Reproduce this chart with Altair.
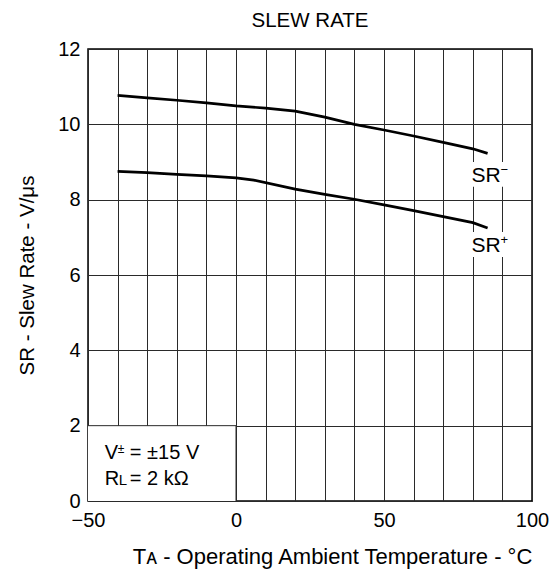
import altair as alt
import pandas as pd

# ---- data ----
temp_minus = [-40, -30, -20, -10, 0, 10, 20, 30, 40, 50, 60, 70, 80, 85]
sr_minus = [10.77, 10.70, 10.64, 10.57, 10.49, 10.43, 10.35, 10.19, 10.0, 9.85, 9.69, 9.52, 9.35, 9.23]
temp_plus = [-40, -30, -20, -10, 0, 6, 20, 30, 40, 50, 60, 70, 80, 85]
sr_plus = [8.75, 8.72, 8.67, 8.63, 8.58, 8.52, 8.28, 8.14, 8.01, 7.86, 7.71, 7.55, 7.39, 7.25]

x_ticks = list(range(-50, 101, 10))
y_ticks = list(range(0, 13, 2))

series_names = ["SR", "SR"]
series_signs = ["\u2212", "+"]
label_x = [79.6, 79.6]
label_y = [8.48, 6.62]

FONT = "Liberation Sans"
FS = 20
GRID = "#2a2a2a"

df = pd.concat([
    pd.DataFrame({"T": temp_minus, "SR": sr_minus, "s": "minus"}),
    pd.DataFrame({"T": temp_plus, "SR": sr_plus, "s": "plus"}),
])

xs = alt.Scale(domain=[-50, 100], nice=False)
ys = alt.Scale(domain=[0, 12], nice=False)

x_axis = alt.Axis(
    values=x_ticks, labelExpr="datum.value % 50 == 0 ? datum.label : ''",
    ticks=False, domain=False, grid=True, gridColor=GRID, gridWidth=1,
    labelFontSize=FS, labelFont=FONT, labelColor="black", labelPadding=9,
    title="T\u1d00 - Operating Ambient Temperature - \u00b0C",
    titleFontSize=22, titleFont=FONT, titleFontWeight="normal", titleColor="black",
    titlePadding=16, titleX=244, labelFlush=False, labelOverlap=False,
)
y_axis = alt.Axis(
    values=y_ticks, ticks=False, domain=False, grid=True, gridColor=GRID, gridWidth=1,
    labelFontSize=FS, labelFont=FONT, labelColor="black", labelPadding=8,
    title="SR - Slew Rate - V/\u03bcs",
    titleFontSize=20.5, titleFont=FONT, titleFontWeight="normal", titleColor="black",
    titlePadding=20, labelFlush=False, labelOverlap=False,
)


def X(f):
    return alt.X(f, type="quantitative", scale=xs, axis=x_axis)


def Y(f):
    return alt.Y(f, type="quantitative", scale=ys, axis=y_axis)


lines = alt.Chart(df).mark_line(color="black", strokeWidth=2.7).encode(
    x=X("T"), y=Y("SR"), detail="s:N",
)

box = alt.Chart(pd.DataFrame({"x": [-50], "x2": [0], "y": [0], "y2": [2]})).mark_rect(
    color="white").encode(x=X("x"), x2="x2:Q", y=Y("y"), y2="y2:Q")

box_edges = alt.Chart(pd.DataFrame({"x": [0, -50], "x2": [0, 0], "y": [0, 2], "y2": [2, 2]})).mark_rule(
    color=GRID, strokeWidth=1).encode(x=X("x"), x2="x2:Q", y=Y("y"), y2="y2:Q")

lab_df = pd.DataFrame({"t": series_names, "s": series_signs, "x": label_x, "y": label_y})
lab_bg = alt.Chart(lab_df).transform_calculate(
    x1="datum.x - 0.6", x2="datum.x + 11.7", y1="datum.y - 0.14", y2="datum.y + 0.52"
).mark_rect(color="white").encode(x=X("x1"), x2="x2:Q", y=Y("y1"), y2="y2:Q")
lab_txt = alt.Chart(lab_df).mark_text(font=FONT, fontSize=21, color="black",
                                      align="left", baseline="alphabetic").encode(
    x=X("x"), y=Y("y"), text="t:N")
lab_sup = alt.Chart(lab_df).mark_text(font=FONT, fontSize=13, color="black",
                                      align="left", baseline="alphabetic",
                                      dx=29, dy=-8).encode(
    x=X("x"), y=Y("y"), text="s:N")

ann_x = -44.3
ann_y1 = 1.108
ann_y2 = 0.426


def ann(text, y, dx=0, dy=0, size=FS):
    return alt.Chart(pd.DataFrame({"x": [ann_x], "y": [y], "t": [text]})).mark_text(
        font=FONT, fontSize=size, color="black", align="left", baseline="alphabetic", dx=dx, dy=dy
    ).encode(x=X("x"), y=Y("y"), text="t:N")


anns = [
    ann("V", ann_y1),
    ann("\u00b1", ann_y1, dx=13, dy=-6, size=12),
    ann("= \u00b115 V", ann_y1, dx=25),
    ann("R", ann_y2),
    ann("L", ann_y2, dx=14, size=15),
    ann("= 2 k\u03a9", ann_y2, dx=25),
]

chart = alt.layer(lines, box, box_edges, lab_bg, lab_txt, lab_sup, *anns).properties(
    width=444, height=452,
    title=alt.TitleParams("SLEW RATE", fontSize=20.5, font=FONT, fontWeight="normal",
                          color="black", offset=8),
    autosize=alt.AutoSizeParams(type="none"),
    padding={"left": 80, "top": 41, "right": 20, "bottom": 68},
    background="white",
).configure_view(stroke="black", strokeWidth=1.5)

chart.save("out.html", embed_options={"renderer": "svg", "actions": False})
